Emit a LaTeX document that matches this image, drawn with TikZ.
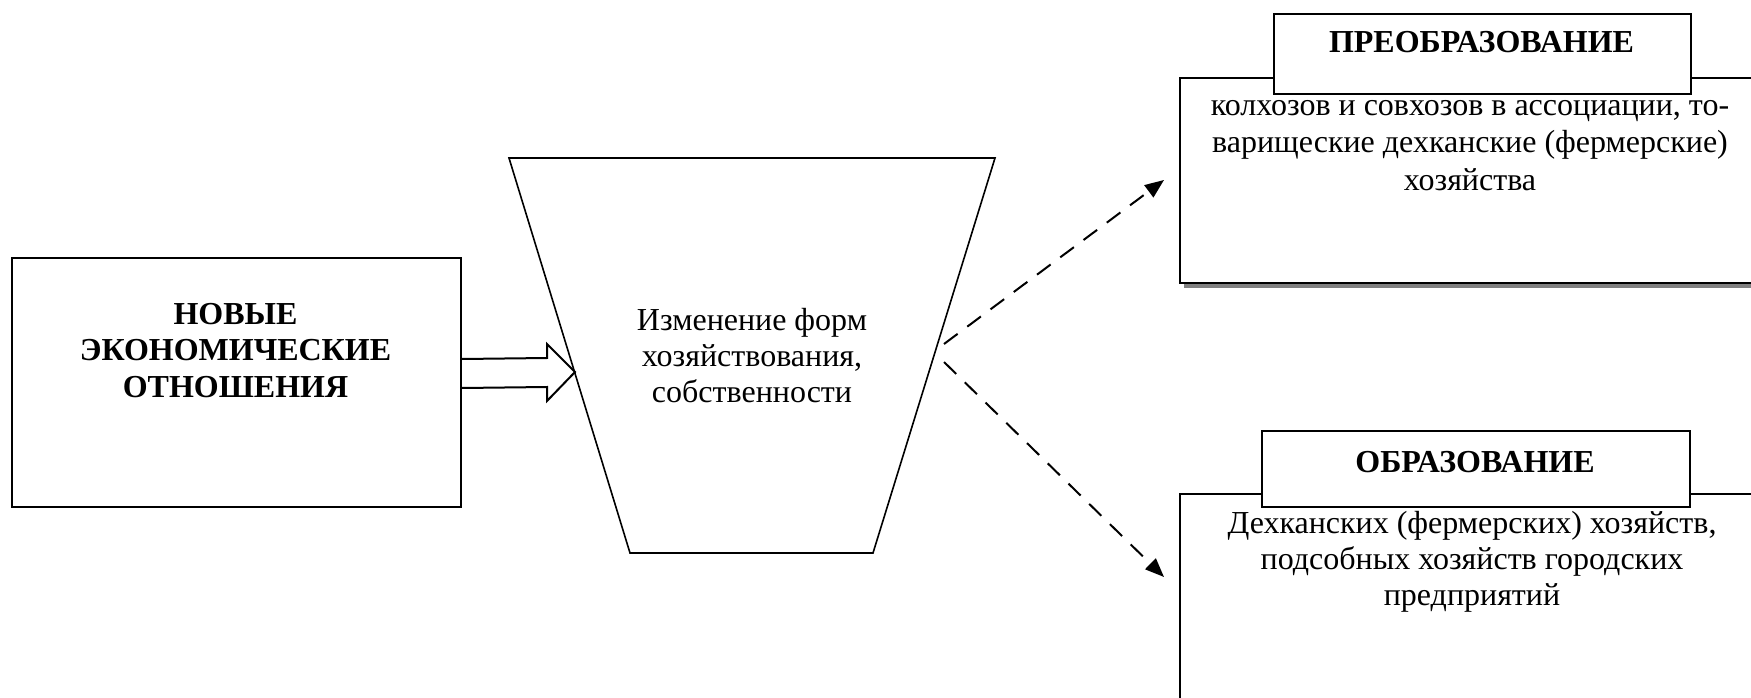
\documentclass[tikz,border=0pt]{standalone}
\usepackage{fontspec}
\setmainfont{Liberation Serif}
\usetikzlibrary{arrows.meta,calc}
\begin{document}
\begin{tikzpicture}[x=1pt,y=-1pt,
  box/.style={draw,line width=2pt,fill=white,inner sep=0pt,anchor=north west},
  shadowbox/.style={fill=black!50},
  bodytext/.style={align=center,font=\fontsize{32}{36.5}\selectfont,inner sep=0pt,anchor=base},
  headtext/.style={align=center,font=\fontsize{32}{36.5}\selectfont\bfseries,inner sep=0pt,anchor=base},
  dasharrow/.style={line width=2pt,dash pattern=on 17pt off 12pt,-{Triangle[length=19pt,width=15pt]}},
  thinline/.style={line width=1.6pt},
]
\useasboundingbox (0,0) rectangle (1751,698);

% left box
\node[box, minimum width=449pt, minimum height=249pt] (nov) at (11,257) {};
\node[headtext] (novt) at (235.5,397) {НОВЫЕ\\ЭКОНОМИЧЕСКИЕ\\ОТНОШЕНИЯ};

% trapezoid
\coordinate (tA) at (509,158);
\coordinate (tB) at (995,158);
\coordinate (tC) at (873,553);
\coordinate (tD) at (630,553);
\draw[thinline] (tA) -- (tB) -- (tC) -- (tD) -- cycle;
\node[bodytext, font=\fontsize{32}{36}\selectfont] (izm) at (752,402) {Изменение форм\\хозяйствования,\\собственности};

% block arrow
\coordinate (bt) at (575,372);
\draw[line width=2pt, fill=white] ($(nov.east)+(0,-23.5)$) -- (547,358) -- (547,344) -- (bt)
  -- (547,401) -- (547,387) -- ($(nov.east)+(0,5.5)$);

% upper right
\fill[shadowbox] (1184,82) rectangle (1766,288);
\node[box, minimum width=581pt, minimum height=205pt] (pr) at (1179,77) {};
\node[box, minimum width=417pt, minimum height=80pt] (prh) at (1273,13) {};
\node[headtext] (prht) at (1481.5,53) {ПРЕОБРАЗОВАНИЕ};
\node[bodytext, font=\fontsize{32}{37.5}\selectfont] (prt) at (1470,190) {колхозов и совхозов в ассоциации, то-\\варищеские дехканские (фермерские)\\хозяйства};

% lower right
\fill[shadowbox] (1184,498) rectangle (1766,740);
\node[box, minimum width=581pt, minimum height=240pt] (ob) at (1179,493) {};
\node[box, minimum width=428pt, minimum height=76pt] (obh) at (1261,430) {};
\node[headtext] (obht) at (1475,472) {ОБРАЗОВАНИЕ};
\node[bodytext, font=\fontsize{32}{36}\selectfont] (obt) at (1472,605) {Дехканских (фермерских) хозяйств,\\подсобных хозяйств городских\\предприятий};

% dashed arrows
\coordinate (d1s) at (944,344);
\coordinate (d1e) at (1164,180);
\coordinate (d2s) at (944,362);
\coordinate (d2e) at (1164,577);
\draw[dasharrow] (d1s) -- (d1e);
\draw[dasharrow] (d2s) -- (d2e);
\end{tikzpicture}
\end{document}
